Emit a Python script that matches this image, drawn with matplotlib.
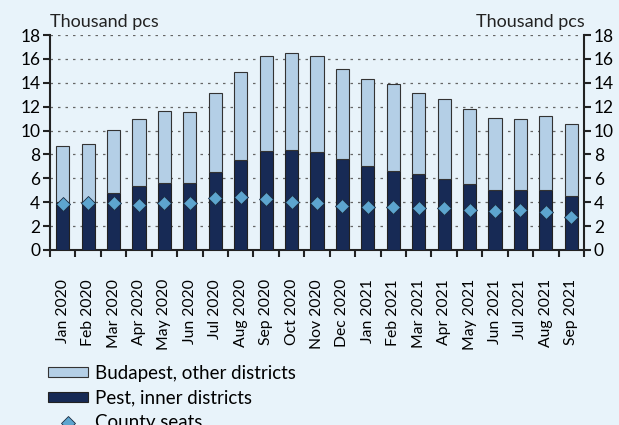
import matplotlib
matplotlib.use("Agg")
import matplotlib.pyplot as plt
import numpy as np
from matplotlib.patches import Patch
from matplotlib.lines import Line2D

months = ["Jan 2020", "Feb 2020", "Mar 2020", "Apr 2020", "May 2020", "Jun 2020",
          "Jul 2020", "Aug 2020", "Sep 2020", "Oct 2020", "Nov 2020", "Dec 2020",
          "Jan 2021", "Feb 2021", "Mar 2021", "Apr 2021", "May 2021", "Jun 2021",
          "Jul 2021", "Aug 2021", "Sep 2021"]
totals = [8.74, 8.88, 10.06, 11.0, 11.6, 11.54, 13.13, 14.92, 16.26, 16.48, 16.24,
          15.17, 14.33, 13.88, 13.18, 12.63, 11.82, 11.06, 11.0, 11.26, 10.59]
pest_inner = [4.0, 4.0, 4.8, 5.36, 5.64, 5.64, 6.56, 7.54, 8.3, 8.35, 8.17,
              7.6, 7.07, 6.65, 6.37, 5.95, 5.56, 5.06, 5.0, 5.06, 4.53]
county_seats = [3.85, 3.97, 3.9, 3.8, 3.97, 3.94, 4.36, 4.41, 4.3, 4.0, 3.94,
                3.7, 3.58, 3.63, 3.52, 3.49, 3.32, 3.24, 3.32, 3.18, 2.77]
budapest_other = [t - p for t, p in zip(totals, pest_inner)]

BG = "#E8F3FA"
LIGHT = "#B4CFE6"
DARK = "#172A55"
DIAM = "#5DA5CF"

plt.rcParams['font.family'] = ['Lato', 'DejaVu Sans']
plt.rcParams['font.size'] = 12

fig = plt.figure(figsize=(6.19, 4.25), dpi=100, facecolor=BG)
ax = fig.add_axes([50/619, 1-250/425, 534/619, 215/425])
ax.set_facecolor(BG)

x = np.arange(len(months))
w = 0.52
ax.bar(x, pest_inner, width=w, color=DARK, edgecolor="#222222", linewidth=0.8, zorder=3)
ax.bar(x, budapest_other, width=w, bottom=pest_inner, color=LIGHT, edgecolor="#333333",
       linewidth=0.8, zorder=3)
ax.plot(x, county_seats, linestyle="none", marker="D", markersize=7.5,
        markerfacecolor=DIAM, markeredgecolor="#1a2a40", markeredgewidth=0.6, zorder=4)

ax.set_xlim(-0.5, len(months) - 0.5)
ax.set_ylim(0, 18)
ax.set_yticks(np.arange(0, 19, 2))
ax.yaxis.grid(True, linestyle=(0, (2, 4)), color="#666666", linewidth=0.9, zorder=0)
ax.set_axisbelow(True)

ax.set_xticks(x)
ax.set_xticklabels(months, rotation=90, fontsize=11.3)
ax.set_xticks(np.arange(-0.5, len(months), 1), minor=True)
ax.tick_params(axis='x', which='major', length=0, pad=21)
ax.tick_params(axis='x', which='minor', length=5, width=1.5, direction='out', color="#222222")
ax.tick_params(axis='y', which='major', length=5, width=1.5, direction='out', color="#222222",
               labelsize=12.5, pad=2)

ax.spines["top"].set_visible(False)
ax.spines["right"].set_visible(False)
ax.spines["left"].set_linewidth(1.5)
ax.spines["bottom"].set_linewidth(1.5)
ax.spines["left"].set_color("#222222")
ax.spines["bottom"].set_color("#222222")

ax2 = ax.twinx()
ax2.set_ylim(0, 18)
ax2.set_yticks(np.arange(0, 19, 2))
ax2.tick_params(axis='y', length=5, width=1.5, direction='out', color="#222222",
                labelsize=12.5, pad=2)
for s in ["top", "left", "bottom"]:
    ax2.spines[s].set_visible(False)
ax2.spines["right"].set_linewidth(1.5)
ax2.spines["right"].set_color("#222222")

fig.text(50/619, 1-22/425, "Thousand pcs", ha="left", va="center", fontsize=13, color="#222222")
fig.text(585/619, 1-22/425, "Thousand pcs", ha="right", va="center", fontsize=13, color="#222222")

handles = [
    Patch(facecolor=LIGHT, edgecolor="#333333", linewidth=0.8),
    Patch(facecolor=DARK, edgecolor="#222222", linewidth=0.8),
    Line2D([], [], linestyle="none", marker="D", markersize=7.5, markerfacecolor=DIAM,
           markeredgecolor="#1a2a40", markeredgewidth=0.6),
]
labels = ["Budapest, other districts", "Pest, inner districts", "County seats"]
fig.legend(handles, labels, loc="upper left", bbox_to_anchor=(48/619, 1-365/425),
           frameon=False, fontsize=13.5, handlelength=2.13, handleheight=0.45,
           labelspacing=0.41, handletextpad=0.37, borderpad=0, borderaxespad=0)

fig.savefig("out.png", dpi=100, facecolor=BG)
